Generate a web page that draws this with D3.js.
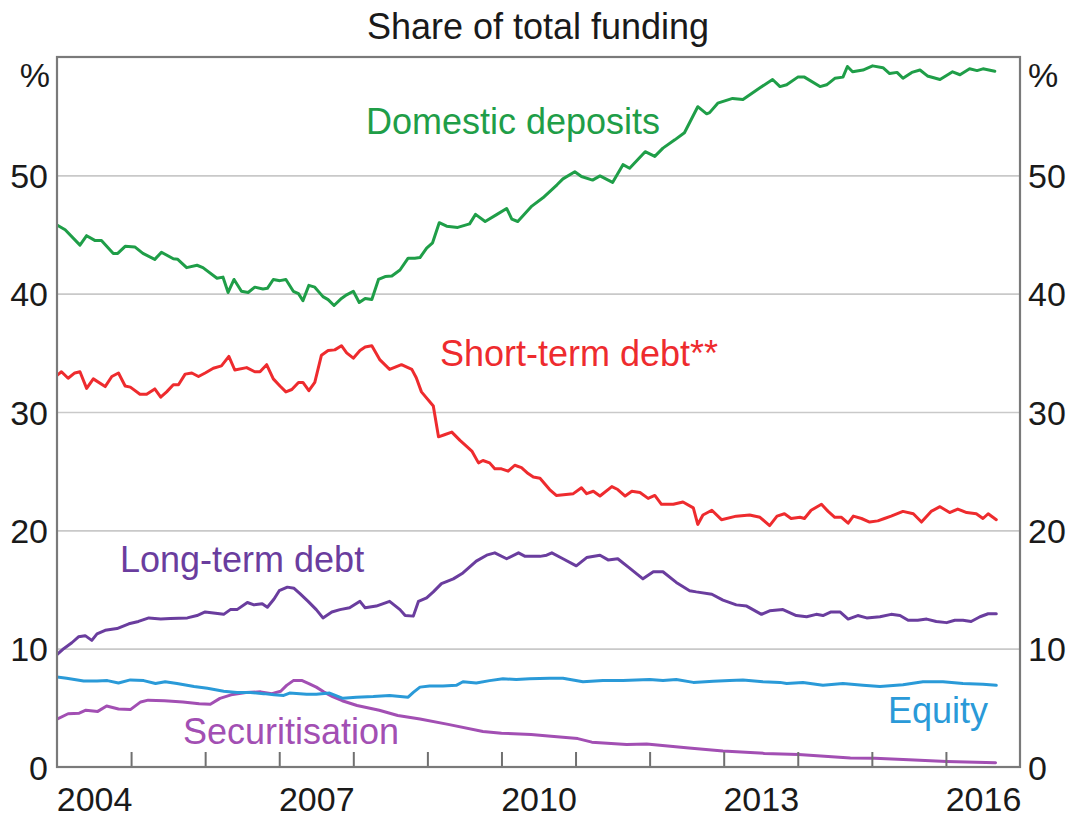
<!DOCTYPE html>
<html>
<head>
<meta charset="utf-8">
<script src="https://cdn.jsdelivr.net/npm/d3@7"></script>
<style>
  html, body { margin: 0; padding: 0; background: #ffffff; }
  svg { display: block; }
  text { font-family: "Liberation Sans", Arial, Helvetica, sans-serif; }
</style>
</head>
<body>
<svg id="chart" width="1069" height="819"></svg>
<script>
// ---------------- DATA (decimal year, % share of total funding) ----------------
const domesticDeposits = [
  [2004.00,45.8],[2004.11,45.4],[2004.31,44.1],[2004.40,44.9],[2004.51,44.5],[2004.60,44.5],
  [2004.76,43.4],[2004.82,43.4],[2004.92,44.0],[2005.05,43.95],[2005.16,43.4],[2005.32,42.9],
  [2005.41,43.5],[2005.57,42.95],[2005.63,42.9],[2005.75,42.2],[2005.89,42.4],[2005.97,42.2],
  [2006.16,41.3],[2006.24,41.4],[2006.31,40.1],[2006.39,41.2],[2006.49,40.2],[2006.58,40.1],
  [2006.67,40.55],[2006.78,40.4],[2006.84,40.45],[2006.92,41.2],[2007.01,41.1],[2007.09,41.2],
  [2007.19,40.2],[2007.26,40.0],[2007.32,39.4],[2007.40,40.7],[2007.48,40.55],[2007.59,39.75],
  [2007.66,39.5],[2007.74,39.0],[2007.84,39.6],[2007.91,39.9],[2008.00,40.2],[2008.08,39.25],
  [2008.16,39.6],[2008.25,39.5],[2008.34,41.2],[2008.43,41.45],[2008.52,41.5],[2008.63,42.0],
  [2008.74,43.0],[2008.83,43.0],[2008.90,43.05],[2008.99,43.85],[2009.07,44.3],[2009.16,46.0],
  [2009.26,45.7],[2009.41,45.6],[2009.57,45.9],[2009.65,46.7],[2009.78,46.1],[2009.94,46.7],
  [2010.07,47.2],[2010.14,46.3],[2010.22,46.1],[2010.41,47.4],[2010.56,48.1],[2010.75,49.2],
  [2010.83,49.7],[2010.99,50.3],[2011.08,49.9],[2011.23,49.6],[2011.33,49.95],[2011.50,49.4],
  [2011.64,50.9],[2011.73,50.6],[2011.94,52.0],[2012.07,51.6],[2012.18,52.3],[2012.34,53.0],
  [2012.47,53.6],[2012.65,55.8],[2012.77,55.2],[2012.81,55.3],[2012.92,56.1],[2013.12,56.5],
  [2013.26,56.4],[2013.49,57.4],[2013.66,58.1],[2013.76,57.5],[2013.85,57.65],[2014.00,58.3],
  [2014.09,58.3],[2014.30,57.5],[2014.39,57.65],[2014.50,58.2],[2014.61,58.3],[2014.67,59.2],
  [2014.74,58.75],[2014.88,58.9],[2015.01,59.25],[2015.15,59.1],[2015.24,58.6],[2015.34,58.7],
  [2015.42,58.2],[2015.54,58.7],[2015.65,58.9],[2015.75,58.4],[2015.92,58.1],[2016.09,58.75],
  [2016.19,58.5],[2016.32,59.0],[2016.42,58.85],[2016.50,59.0],[2016.66,58.8]
];

const shortTermDebt = [
  [2004.00,33.1],[2004.06,33.4],[2004.15,32.85],[2004.24,33.3],[2004.31,33.4],[2004.40,32.0],
  [2004.49,32.8],[2004.65,32.15],[2004.74,33.0],[2004.83,33.3],[2004.92,32.2],[2004.99,32.1],
  [2005.12,31.5],[2005.21,31.5],[2005.32,31.95],[2005.40,31.25],[2005.48,31.7],[2005.57,32.3],
  [2005.64,32.3],[2005.73,33.2],[2005.82,33.3],[2005.91,33.0],[2006.00,33.3],[2006.11,33.7],
  [2006.22,33.9],[2006.32,34.7],[2006.40,33.55],[2006.56,33.75],[2006.67,33.4],[2006.74,33.4],
  [2006.83,34.0],[2006.92,32.8],[2007.01,32.2],[2007.09,31.7],[2007.17,31.9],[2007.26,32.5],
  [2007.32,32.5],[2007.40,31.8],[2007.48,32.5],[2007.57,34.8],[2007.66,35.2],[2007.75,35.25],
  [2007.84,35.6],[2007.91,35.0],[2008.00,34.55],[2008.09,35.2],[2008.16,35.5],[2008.25,35.6],
  [2008.36,34.4],[2008.49,33.6],[2008.65,34.0],[2008.79,33.6],[2008.85,32.9],[2008.92,31.7],
  [2009.08,30.5],[2009.15,27.9],[2009.24,28.1],[2009.33,28.3],[2009.44,27.6],[2009.53,27.1],
  [2009.60,26.7],[2009.69,25.7],[2009.75,25.9],[2009.84,25.7],[2009.91,25.2],[2010.00,25.2],
  [2010.09,25.0],[2010.18,25.5],[2010.27,25.3],[2010.36,24.8],[2010.43,24.5],[2010.52,24.4],
  [2010.65,23.45],[2010.74,22.95],[2010.97,23.1],[2011.08,23.6],[2011.15,23.1],[2011.24,23.3],
  [2011.33,22.9],[2011.49,23.7],[2011.57,23.45],[2011.67,22.9],[2011.76,23.3],[2011.87,23.2],
  [2011.98,22.7],[2012.07,22.95],[2012.16,22.2],[2012.32,22.2],[2012.45,22.4],[2012.59,21.9],
  [2012.65,20.5],[2012.72,21.3],[2012.84,21.7],[2012.97,20.9],[2013.17,21.2],[2013.35,21.3],
  [2013.49,21.1],[2013.62,20.4],[2013.72,21.2],[2013.82,21.4],[2013.91,21.0],[2014.03,21.1],
  [2014.09,21.0],[2014.18,21.7],[2014.32,22.2],[2014.41,21.6],[2014.50,21.1],[2014.59,21.1],
  [2014.68,20.6],[2014.75,21.2],[2014.86,21.0],[2014.97,20.7],[2015.08,20.8],[2015.17,21.0],
  [2015.26,21.2],[2015.42,21.6],[2015.56,21.4],[2015.67,20.7],[2015.80,21.6],[2015.92,22.0],
  [2016.05,21.5],[2016.16,21.8],[2016.28,21.5],[2016.41,21.4],[2016.50,21.0],[2016.57,21.4],
  [2016.68,20.9]
];

const longTermDebt = [
  [2004.00,9.5],[2004.09,10.0],[2004.20,10.5],[2004.29,11.0],[2004.38,11.1],[2004.47,10.7],
  [2004.54,11.25],[2004.65,11.55],[2004.81,11.7],[2004.97,12.1],[2005.10,12.3],[2005.24,12.6],
  [2005.40,12.5],[2005.53,12.55],[2005.76,12.6],[2005.89,12.8],[2006.00,13.1],[2006.14,13.0],
  [2006.25,12.9],[2006.34,13.3],[2006.43,13.3],[2006.57,13.9],[2006.66,13.7],[2006.77,13.8],
  [2006.84,13.5],[2006.93,14.2],[2007.00,14.9],[2007.11,15.2],[2007.20,15.1],[2007.28,14.65],
  [2007.39,14.0],[2007.50,13.3],[2007.59,12.6],[2007.71,13.1],[2007.82,13.3],[2007.95,13.45],
  [2008.09,14.0],[2008.16,13.45],[2008.31,13.6],[2008.49,14.0],[2008.63,13.3],[2008.70,12.8],
  [2008.81,12.75],[2008.88,14.0],[2008.99,14.3],[2009.08,14.8],[2009.19,15.5],[2009.35,15.9],
  [2009.48,16.4],[2009.66,17.4],[2009.80,17.9],[2009.91,18.1],[2010.07,17.6],[2010.23,18.1],
  [2010.32,17.8],[2010.52,17.8],[2010.61,17.9],[2010.68,18.1],[2010.83,17.6],[2011.01,17.0],
  [2011.15,17.7],[2011.33,17.9],[2011.44,17.5],[2011.57,17.6],[2011.73,16.8],[2011.91,15.9],
  [2012.05,16.5],[2012.18,16.5],[2012.36,15.6],[2012.54,14.9],[2012.63,14.8],[2012.84,14.6],
  [2012.99,14.1],[2013.17,13.7],[2013.31,13.6],[2013.51,12.9],[2013.62,13.2],[2013.80,13.3],
  [2013.98,12.8],[2014.12,12.7],[2014.25,12.9],[2014.34,12.8],[2014.45,13.1],[2014.57,13.1],
  [2014.68,12.5],[2014.81,12.8],[2014.93,12.6],[2015.11,12.7],[2015.26,12.9],[2015.38,12.8],
  [2015.49,12.4],[2015.62,12.4],[2015.74,12.5],[2015.87,12.3],[2016.01,12.2],[2016.12,12.4],
  [2016.23,12.4],[2016.34,12.3],[2016.46,12.7],[2016.57,12.95],[2016.68,12.95]
];

const equity = [
  [2004.00,7.6],[2004.13,7.5],[2004.36,7.27],[2004.54,7.27],[2004.68,7.3],[2004.83,7.1],
  [2004.99,7.36],[2005.17,7.3],[2005.33,7.05],[2005.46,7.2],[2005.62,7.05],[2005.85,6.8],
  [2006.03,6.65],[2006.25,6.4],[2006.43,6.3],[2006.61,6.3],[2006.79,6.2],[2006.93,6.1],
  [2007.06,6.05],[2007.14,6.25],[2007.37,6.15],[2007.50,6.15],[2007.68,6.25],[2007.86,5.8],
  [2008.04,5.9],[2008.27,5.95],[2008.49,6.05],[2008.74,5.9],[2008.81,6.3],[2008.90,6.75],
  [2009.03,6.85],[2009.21,6.85],[2009.39,6.9],[2009.48,7.2],[2009.66,7.1],[2009.84,7.3],
  [2010.02,7.45],[2010.20,7.4],[2010.38,7.45],[2010.65,7.5],[2010.83,7.5],[2011.10,7.2],
  [2011.37,7.3],[2011.64,7.3],[2012.00,7.4],[2012.18,7.3],[2012.36,7.4],[2012.59,7.15],
  [2012.86,7.25],[2013.08,7.3],[2013.26,7.35],[2013.53,7.2],[2013.76,7.15],[2013.85,7.05],
  [2014.07,7.15],[2014.34,6.9],[2014.61,7.05],[2014.88,6.9],[2015.11,6.8],[2015.42,6.95],
  [2015.69,7.2],[2015.96,7.2],[2016.23,7.05],[2016.50,7.0],[2016.68,6.9]
];

const securitisation = [
  [2004.00,4.05],[2004.15,4.5],[2004.30,4.55],[2004.39,4.8],[2004.55,4.7],[2004.67,5.15],
  [2004.83,4.9],[2004.99,4.85],[2005.13,5.5],[2005.23,5.65],[2005.45,5.6],[2005.70,5.5],
  [2005.92,5.35],[2006.07,5.3],[2006.20,5.8],[2006.35,6.1],[2006.55,6.3],[2006.75,6.35],
  [2006.90,6.2],[2007.02,6.4],[2007.10,6.9],[2007.19,7.3],[2007.31,7.3],[2007.40,7.05],
  [2007.50,6.75],[2007.60,6.35],[2007.72,5.95],[2007.85,5.6],[2008.05,5.2],[2008.35,4.8],
  [2008.60,4.35],[2008.90,4.05],[2009.28,3.6],[2009.75,3.0],[2010.00,2.85],[2010.40,2.75],
  [2010.67,2.6],[2011.03,2.4],[2011.22,2.1],[2011.69,1.9],[2011.96,1.95],[2012.53,1.6],
  [2012.99,1.35],[2013.55,1.15],[2014.01,1.05],[2014.71,0.76],[2015.04,0.74],[2015.50,0.62],
  [2016.01,0.47],[2016.67,0.36]
];

const yTicks = [0, 10, 20, 30, 40, 50];
const yGrid = [10, 20, 30, 40, 50];
const yearTicks = [2005, 2006, 2007, 2008, 2009, 2010, 2011, 2012, 2013, 2014, 2015, 2016];
const yearLabels = [2004, 2007, 2010, 2013, 2016];
const subtitle = "Share of total funding";
const unitLabel = "%";

const seriesList = [
  { name: "Domestic deposits", data: domesticDeposits, color: "#1f9e48", label: [366, 134] },
  { name: "Short-term debt**", data: shortTermDebt, color: "#ee2b2e", label: [440, 366] },
  { name: "Long-term debt", data: longTermDebt, color: "#6a3d9e", label: [120, 572] },
  { name: "Equity", data: equity, color: "#2a9ad8", label: [888, 723] },
  { name: "Securitisation", data: securitisation, color: "#a24fb3", label: [183, 744] }
];

// ---------------- LAYOUT ----------------
const W = 1069, H = 819;
const margin = { left: 57, right: 49, top: 57, bottom: 52 };
const plotW = W - margin.left - margin.right;
const plotH = H - margin.top - margin.bottom;

const svg = d3.select("#chart");
const x = d3.scaleLinear().domain([2004, 2017]).range([margin.left, margin.left + plotW]);
const y = d3.scaleLinear().domain([0, 60]).range([margin.top + plotH, margin.top]);

const FONT = 34;
const LABEL_FONT = 36;

// Gridlines
svg.append("g")
  .attr("transform", `translate(${margin.left},0)`)
  .call(d3.axisLeft(y).tickValues(yGrid).tickSize(-plotW).tickFormat(""))
  .call(g => g.select(".domain").remove())
  .call(g => g.selectAll("line").attr("stroke", "#c9c9c9").attr("stroke-width", 1.6));

// Clip
svg.append("clipPath").attr("id", "plotclip")
  .append("rect").attr("x", margin.left).attr("y", margin.top).attr("width", plotW).attr("height", plotH);

// Lines
const line = d3.line().x(d => x(d[0])).y(d => y(d[1]));
const linesG = svg.append("g").attr("clip-path", "url(#plotclip)");
seriesList.slice().reverse().forEach(s => {
  linesG.append("path")
    .datum(s.data)
    .attr("fill", "none")
    .attr("stroke", s.color)
    .attr("stroke-width", 3)
    .attr("stroke-linejoin", "round")
    .attr("stroke-linecap", "round")
    .attr("d", line);
});

// Year tick marks (inward)
svg.append("g")
  .attr("transform", `translate(0,${margin.top + plotH})`)
  .call(d3.axisBottom(x).tickValues(yearTicks).tickSize(-15).tickFormat(""))
  .call(g => g.select(".domain").remove())
  .call(g => g.selectAll("line").attr("stroke", "#707070").attr("stroke-width", 2));

// Year labels (centred within year)
svg.append("g")
  .attr("transform", `translate(0,${margin.top + plotH})`)
  .call(d3.axisBottom(x).tickValues(yearLabels.map(v => v + 0.5)).tickSize(0).tickPadding(0)
        .tickFormat(d => String(Math.floor(d))))
  .call(g => g.select(".domain").remove())
  .call(g => g.selectAll("text")
      .attr("dy", null).attr("y", 44)
      .attr("font-size", FONT).attr("fill", "#1a1a1a")
      .attr("font-family", '"Liberation Sans", Arial, sans-serif'));

// Y labels left & right
svg.append("g")
  .attr("transform", `translate(${margin.left},0)`)
  .call(d3.axisLeft(y).tickValues(yTicks).tickSize(0).tickPadding(9).tickFormat(d3.format("d")))
  .call(g => g.select(".domain").remove())
  .call(g => g.selectAll("text")
      .attr("dy", "0.36em")
      .attr("font-size", FONT).attr("fill", "#1a1a1a")
      .attr("font-family", '"Liberation Sans", Arial, sans-serif'));

svg.append("g")
  .attr("transform", `translate(${margin.left + plotW},0)`)
  .call(d3.axisRight(y).tickValues(yTicks).tickSize(0).tickPadding(8).tickFormat(d3.format("d")))
  .call(g => g.select(".domain").remove())
  .call(g => g.selectAll("text")
      .attr("dy", "0.36em")
      .attr("font-size", FONT).attr("fill", "#1a1a1a")
      .attr("font-family", '"Liberation Sans", Arial, sans-serif'));

// Frame
svg.append("rect")
  .attr("x", margin.left).attr("y", margin.top)
  .attr("width", plotW).attr("height", plotH)
  .attr("fill", "none").attr("stroke", "#7a7a7a").attr("stroke-width", 2.2);

// Unit labels
svg.append("text").attr("x", margin.left - 7).attr("y", 87)
  .attr("text-anchor", "end").attr("font-size", FONT).attr("fill", "#1a1a1a").text(unitLabel);
svg.append("text").attr("x", margin.left + plotW + 8).attr("y", 87)
  .attr("text-anchor", "start").attr("font-size", FONT).attr("fill", "#1a1a1a").text(unitLabel);

// Subtitle
svg.append("text").attr("x", 538).attr("y", 39)
  .attr("text-anchor", "middle").attr("font-size", LABEL_FONT).attr("fill", "#1a1a1a").text(subtitle);

// Series labels
seriesList.forEach(s => {
  svg.append("text")
    .attr("x", s.label[0]).attr("y", s.label[1])
    .attr("font-size", LABEL_FONT).attr("fill", s.color)
    .text(s.name);
});
</script>
</body>
</html>
